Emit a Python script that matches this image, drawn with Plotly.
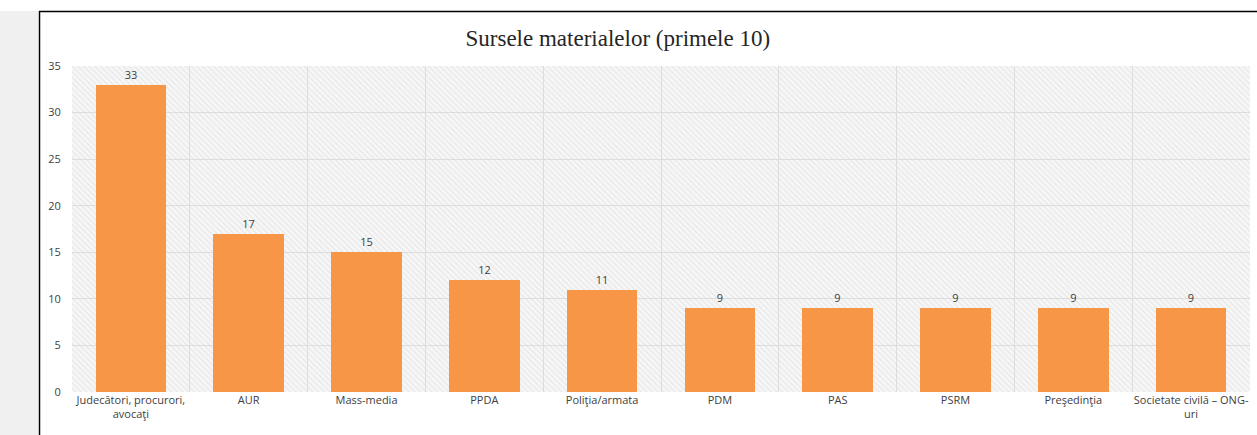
import plotly.graph_objects as go

categories = ["Judecători, procurori,<br>avocaţi", "AUR", "Mass-media", "PPDA", "Poliţia/armata",
              "PDM", "PAS", "PSRM", "Preşedinţia", "Societate civilă – ONG-<br>uri"]
values = [33, 17, 15, 12, 11, 9, 9, 9, 9, 9]
y_max = 35
y_ticks = [0, 5, 10, 15, 20, 25, 30, 35]

W, H = 1257, 435
ML, MR, MT, MB = 72, 7, 66, 43
PW = W - ML - MR
PH = H - MT - MB

def px_x(p):
    return (p - ML) / PW

def px_y(p):
    return (H - MB - p) / PH

fig = go.Figure()

# hatched plot background
fig.add_trace(go.Bar(
    x=categories, y=[y_max] * len(categories), width=1,
    marker=dict(color="rgba(0,0,0,0)", line=dict(width=0),
                pattern=dict(shape="\\", fgcolor="#d6d6d6", bgcolor="rgba(0,0,0,0)",
                             size=4, solidity=0.3, fillmode="overlay")),
    hoverinfo="skip", showlegend=False))

fig.add_trace(go.Bar(
    x=categories, y=values, width=0.6,
    marker=dict(color="#F79646", line=dict(width=0)),
    text=[str(v) for v in values], textposition="outside", cliponaxis=False,
    textfont=dict(family="Open Sans, Liberation Sans, sans-serif", size=11, color="#404040"),
    showlegend=False))

fig.update_layout(
    width=W, height=H,
    margin=dict(l=ML, r=MR, t=MT, b=MB, autoexpand=False),
    paper_bgcolor="white", plot_bgcolor="#f7f7f7",
    barmode="overlay", bargap=0,
    title=dict(text="Sursele materialelor (primele 10)", x=px_x(651), xanchor="center",
               y=1 - 38 / H, yanchor="middle",
               font=dict(family="Liberation Serif, DejaVu Serif, serif", size=23, color="#262626")),
    xaxis=dict(tickson="boundaries", showgrid=True, gridcolor="#dedede", gridwidth=1,
               ticks="", showline=False, zeroline=False, tickangle=0, automargin=False,
               tickfont=dict(family="Open Sans, Liberation Sans, sans-serif", size=11, color="#404040")),
    yaxis=dict(range=[0, y_max], tickvals=y_ticks, showgrid=True, gridcolor="#dedede",
               gridwidth=1, zeroline=False, showline=False, ticks="outside", ticklen=8,
               tickcolor="rgba(0,0,0,0)", automargin=False,
               tickfont=dict(family="Open Sans, Liberation Sans, sans-serif", size=11, color="#404040")),
    shapes=[
        dict(type="rect", xref="paper", yref="paper", x0=px_x(0), x1=px_x(38),
             y0=px_y(H), y1=px_y(11), fillcolor="#f0f0f0", line=dict(width=0), layer="below"),
        dict(type="line", xref="paper", yref="paper", x0=px_x(39), x1=px_x(W),
             y0=px_y(11.5), y1=px_y(11.5), line=dict(color="#000000", width=1.5)),
        dict(type="line", xref="paper", yref="paper", x0=px_x(39.5), x1=px_x(39.5),
             y0=px_y(11), y1=px_y(H), line=dict(color="#000000", width=1.5)),
    ],
)

fig.write_html("out.html", config={"displayModeBar": False},
               post_script="document.body.style.margin='0px';")
